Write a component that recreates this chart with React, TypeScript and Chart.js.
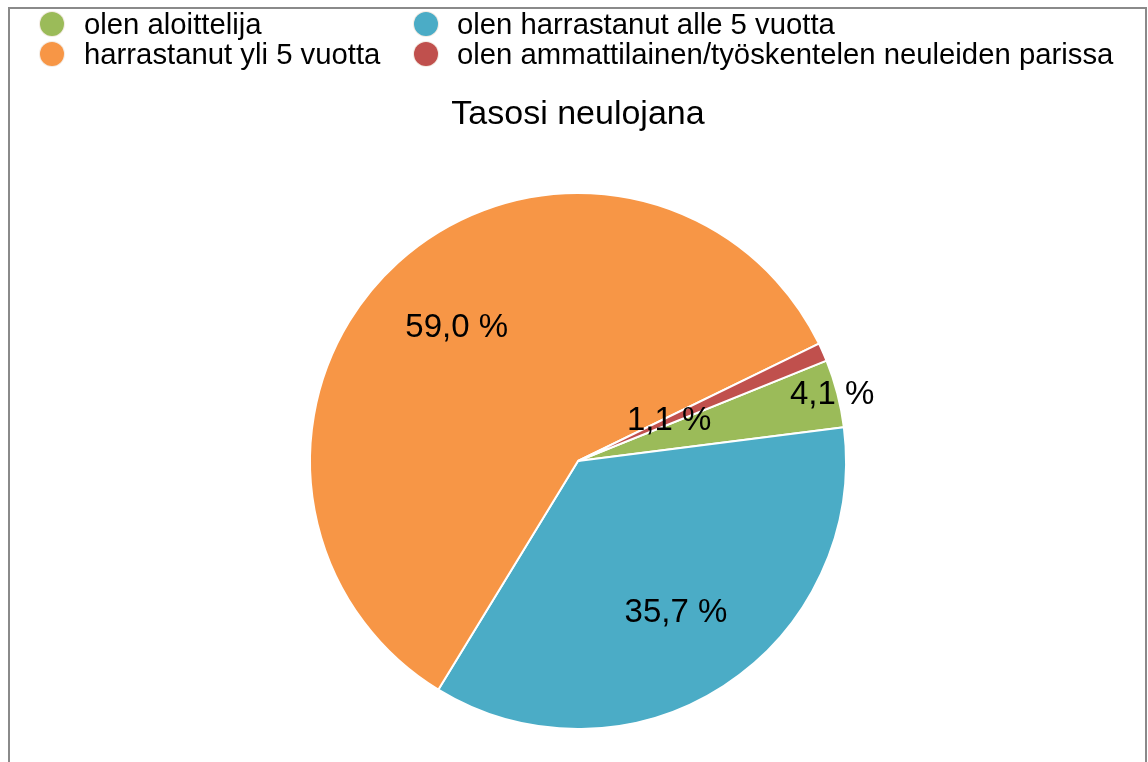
import React, { useEffect, useRef } from "react";
import { Chart, registerables } from "chart.js";

Chart.register(...registerables);

const TITLE = "Tasosi neulojana";
const CATEGORIES = [
  "olen aloittelija",
  "olen harrastanut alle 5 vuotta",
  "harrastanut yli 5 vuotta",
  "olen ammattilainen/työskentelen neuleiden parissa",
];
const VALUES = [4.1, 35.7, 59.0, 1.1];
const COLORS = ["#9BBB59", "#4BACC6", "#F79646", "#C0504D"];

// label placement as a fraction of the radius (style, not data)
const LABEL_RADIUS = [0.98, 0.673, 0.673, 0.372];

const FONT = "'Liberation Sans', Arial, sans-serif";

const fmt = (v: number) => v.toFixed(1).replace(".", ",") + " %";

const labelPlugin = {
  id: "sliceLabels",
  afterDatasetsDraw(chart: any) {
    const ctx = chart.ctx;
    const meta = chart.getDatasetMeta(0);
    ctx.save();
    ctx.font = `33px ${FONT}`;
    ctx.fillStyle = "#000";
    ctx.textAlign = "center";
    ctx.textBaseline = "middle";
    meta.data.forEach((arc: any, i: number) => {
      const { x, y, startAngle, endAngle, outerRadius } = arc.getProps(
        ["x", "y", "startAngle", "endAngle", "outerRadius"],
        true
      );
      const mid = (startAngle + endAngle) / 2;
      const r = outerRadius * LABEL_RADIUS[i];
      const v = chart.data.datasets[0].data[i] as number;
      ctx.fillText(fmt(v), x + Math.cos(mid) * r, y + Math.sin(mid) * r);
    });
    ctx.restore();
  },
};

const LEGEND_MARKER_X = [52, 426];
const LEGEND_TEXT_X = [84, 457];
const LEGEND_MARKER_Y = [24.3, 53.5];
const LEGEND_BASELINE_Y = [33, 63.5];

export default function App() {
  const canvasRef = useRef<HTMLCanvasElement | null>(null);

  useEffect(() => {
    if (!canvasRef.current) return;
    const chart = new Chart(canvasRef.current, {
      type: "pie",
      data: {
        labels: CATEGORIES,
        datasets: [
          {
            data: VALUES,
            backgroundColor: COLORS,
            borderColor: "#ffffff",
            borderWidth: 2,
          },
        ],
      },
      options: {
        responsive: false,
        animation: false,
        devicePixelRatio: 1,
        rotation: 68,
        radius: 268,
        layout: { padding: { top: 0, bottom: 0, left: 0, right: 0 } },
        plugins: {
          legend: { display: false },
          tooltip: { enabled: false },
          title: {
            display: true,
            text: TITLE,
            color: "#000",
            font: { family: FONT, size: 34, weight: "normal", lineHeight: 1.2 },
            padding: { top: 85.6, bottom: 17.6 },
          },
        },
      } as any,
      plugins: [labelPlugin],
    });
    return () => chart.destroy();
  }, []);

  // wrapper content origin on the page is (10, 9)
  const ox = 10;
  const oy = 9;

  return (
    <>
      <style>{"html,body{overflow:hidden;}"}</style>
      <div
        style={{
          position: "fixed",
          left: 8,
          top: 7,
          right: 1,
          height: 800,
          border: "2px solid #8a8a8a",
          boxSizing: "border-box",
          background: "#fff",
          overflow: "hidden",
        }}
      >
        <canvas
          ref={canvasRef}
          width={1136}
          height={760}
          style={{ position: "absolute", left: 0, top: 0, width: 1136, height: 760 }}
        />
        {CATEGORIES.map((label, i) => {
          const col = i % 2;
          const row = Math.floor(i / 2);
          return (
            <React.Fragment key={label}>
              <span
                style={{
                  position: "absolute",
                  left: LEGEND_MARKER_X[col] - 12 - ox,
                  top: LEGEND_MARKER_Y[row] - 12 - oy,
                  width: 24,
                  height: 24,
                  borderRadius: "50%",
                  background: COLORS[i],
                  boxShadow: "0 0 0 1px rgba(240,230,220,0.8)",
                }}
              />
              <span
                style={{
                  position: "absolute",
                  left: LEGEND_TEXT_X[col] - ox,
                  top: LEGEND_BASELINE_Y[row] - 24.5 - oy,
                  fontFamily: FONT,
                  fontSize: 29.3,
                  lineHeight: "29px",
                  color: "#000",
                  whiteSpace: "nowrap",
                }}
              >
                {label}
              </span>
            </React.Fragment>
          );
        })}
      </div>
    </>
  );
}
